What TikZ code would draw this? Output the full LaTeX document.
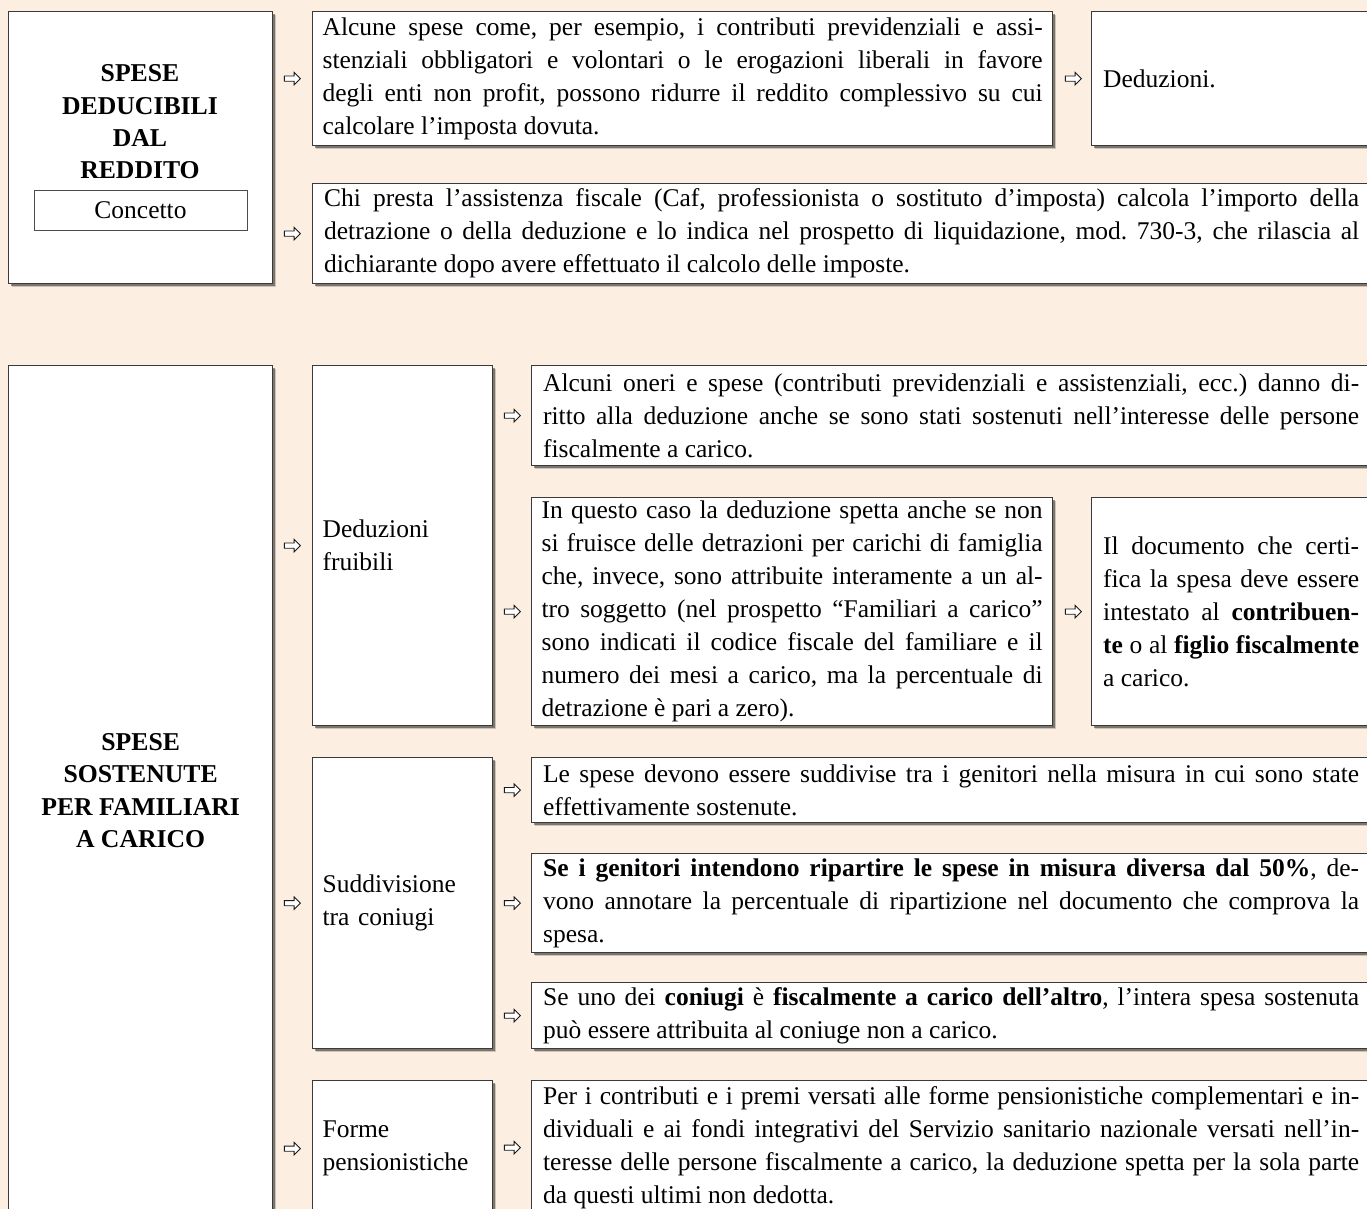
\documentclass[tikz,border=0pt]{standalone}
\usepackage{fontspec}
\setmainfont{Liberation Serif}
\usetikzlibrary{shadows,shapes.arrows}
\definecolor{bgpeach}{HTML}{FCEEE0}
\definecolor{bordergray}{HTML}{3A3A3A}
\newcommand\jl[1]{\makebox[\hsize][s]{#1}\par}
\frenchspacing
\tikzset{
  bx/.style={draw=bordergray, line width=1.3pt, fill=white, anchor=north west,
    inner xsep=10pt, inner ysep=0pt, align=justify,
    font=\fontsize{25.5}{33}\selectfont\frenchspacing,
    drop shadow={shadow xshift=3.5pt, shadow yshift=-3.5pt, opacity=.18, fill=black},
    drop shadow={shadow xshift=2pt, shadow yshift=-2pt, opacity=.4, fill=black}},
  lbx/.style={bx, align=left},
  arr/.style={single arrow, draw=black!90, fill=white, line width=0.9pt,
    minimum height=16pt, minimum width=12.5pt, single arrow head extend=3pt,
    inner sep=1.7pt, anchor=center},
  conc/.style={draw=black!70, line width=0.9pt, fill=white, minimum width=213pt,
    minimum height=40pt, inner sep=0pt, font=\fontsize{25.5}{33}\selectfont},
  head/.style={align=center, font=\fontsize{25.7}{32.3}\selectfont\bfseries}
}
\begin{document}
\begin{tikzpicture}[x=1pt,y=-1pt]
\useasboundingbox[fill=bgpeach] (0,0) rectangle (1367,1209);
\clip (0,0) rectangle (1367,1209);

% ---------- top section ----------
\node[bx, minimum width=264pt, minimum height=272pt] (A) at (8,11) {};
\node[head] (Atitle) at (140,122) {SPESE\\DEDUCIBILI\\DAL\\REDDITO};
\node[conc] (Aconc) at (140.5,210) {Concetto};

\node[bx, text width=720pt, minimum height=134pt] (B1) at (312,11) {%
\jl{Alcune spese come, per esempio, i contributi previdenziali e assi-}%
\jl{stenziali obbligatori e volontari o le erogazioni liberali in favore}%
\jl{degli enti non profit, possono ridurre il reddito complessivo su cui}%
calcolare l’imposta dovuta.};

\node[lbx, text width=256pt, minimum width=279pt, minimum height=134pt] (B2) at (1091,11) {Deduzioni.};

\node[bx, text width=1035pt, minimum width=1058pt, minimum height=100pt] (C) at (312,183) {%
\jl{Chi presta l’assistenza fiscale (Caf, professionista o sostituto d’imposta) calcola l’importo della}%
\jl{detrazione o della deduzione e lo indica nel prospetto di liquidazione, mod. 730-3, che rilascia al}%
dichiarante dopo avere effettuato il calcolo delle imposte.};

\node[arr] (aB1) at ([xshift=-21pt]B1.west) {};
\node[arr] (aB2) at ([xshift=-19pt]B2.west) {};
\node[arr] (aC) at ([xshift=-21pt]C.west) {};

% ---------- bottom section ----------
\node[bx, head, anchor=north west, minimum width=264pt, minimum height=850pt] (D) at (8,365) {SPESE\\SOSTENUTE\\PER FAMILIARI\\A CARICO};

\node[lbx, text width=160pt, minimum width=180pt, minimum height=360pt] (E1) at (312,365) {Deduzioni\\fruibili};
\node[lbx, text width=160pt, minimum width=180pt, minimum height=291pt] (E2) at (312,757) {Suddivisione\\tra coniugi};
\node[lbx, text width=160pt, minimum width=180pt, minimum height=136pt] (E3) at (312,1080) {Forme\\pensionistiche};

\node[bx, text width=816pt, minimum width=839pt, minimum height=100pt] (F1) at (531,365) {%
\jl{Alcuni oneri e spese (contributi previdenziali e assistenziali, ecc.) danno di-}%
\jl{ritto alla deduzione anche se sono stati sostenuti nell’interesse delle persone}%
fiscalmente a carico.};

\node[bx, text width=501pt, minimum width=521pt, minimum height=228pt] (F2) at (531,497) {%
\jl{In questo caso la deduzione spetta anche se non}%
\jl{si fruisce delle detrazioni per carichi di famiglia}%
\jl{che, invece, sono attribuite interamente a un al-}%
\jl{tro soggetto (nel prospetto “Familiari a carico”}%
\jl{sono indicati il codice fiscale del familiare e il}%
\jl{numero dei mesi a carico, ma la percentuale di}%
detrazione è pari a zero).};

\node[bx, text width=256pt, minimum width=279pt, minimum height=228pt] (F3) at (1091,497) {%
\jl{Il documento che certi-}%
\jl{fica la spesa deve essere}%
\jl{intestato al \textbf{contribuen-}}%
\jl{\textbf{te} o al \textbf{figlio fiscalmente}}%
a carico.};

\node[bx, text width=816pt, minimum width=839pt, minimum height=65pt] (F4) at (531,757) {%
\jl{Le spese devono essere suddivise tra i genitori nella misura in cui sono state}%
effettivamente sostenute.};

\node[bx, text width=816pt, minimum width=839pt, minimum height=99pt] (F5) at (531,853) {%
\jl{\textbf{Se i genitori intendono ripartire le spese in misura diversa dal 50\%}, de-}%
\jl{vono annotare la percentuale di ripartizione nel documento che comprova la}%
spesa.};

\node[bx, text width=816pt, minimum width=839pt, minimum height=66pt] (F6) at (531,982) {%
\jl{Se uno dei \textbf{coniugi} è \textbf{fiscalmente a carico dell’altro}, l’intera spesa sostenuta}%
può essere attribuita al coniuge non a carico.};

\node[bx, text width=816pt, minimum width=839pt, minimum height=134pt] (F7) at (531,1080) {%
\jl{Per i contributi e i premi versati alle forme pensionistiche complementari e in-}%
\jl{dividuali e ai fondi integrativi del Servizio sanitario nazionale versati nell’in-}%
\jl{teresse delle persone fiscalmente a carico, la deduzione spetta per la sola parte}%
da questi ultimi non dedotta.};

\node[arr] (aE1) at ([xshift=-21pt]E1.west) {};
\node[arr] (aE2) at ([xshift=-21pt]E2.west) {};
\node[arr] (aE3) at ([xshift=-21pt]E3.west) {};
\node[arr] (aF1) at ([xshift=-20pt]F1.west) {};
\node[arr] (aF2) at ([xshift=-20pt]F2.west) {};
\node[arr] (aF3) at ([xshift=-19pt]F3.west) {};
\node[arr] (aF4) at ([xshift=-20pt]F4.west) {};
\node[arr] (aF5) at ([xshift=-20pt]F5.west) {};
\node[arr] (aF6) at ([xshift=-20pt]F6.west) {};
\node[arr] (aF7) at ([xshift=-20pt]F7.west) {};
\end{tikzpicture}
\end{document}
